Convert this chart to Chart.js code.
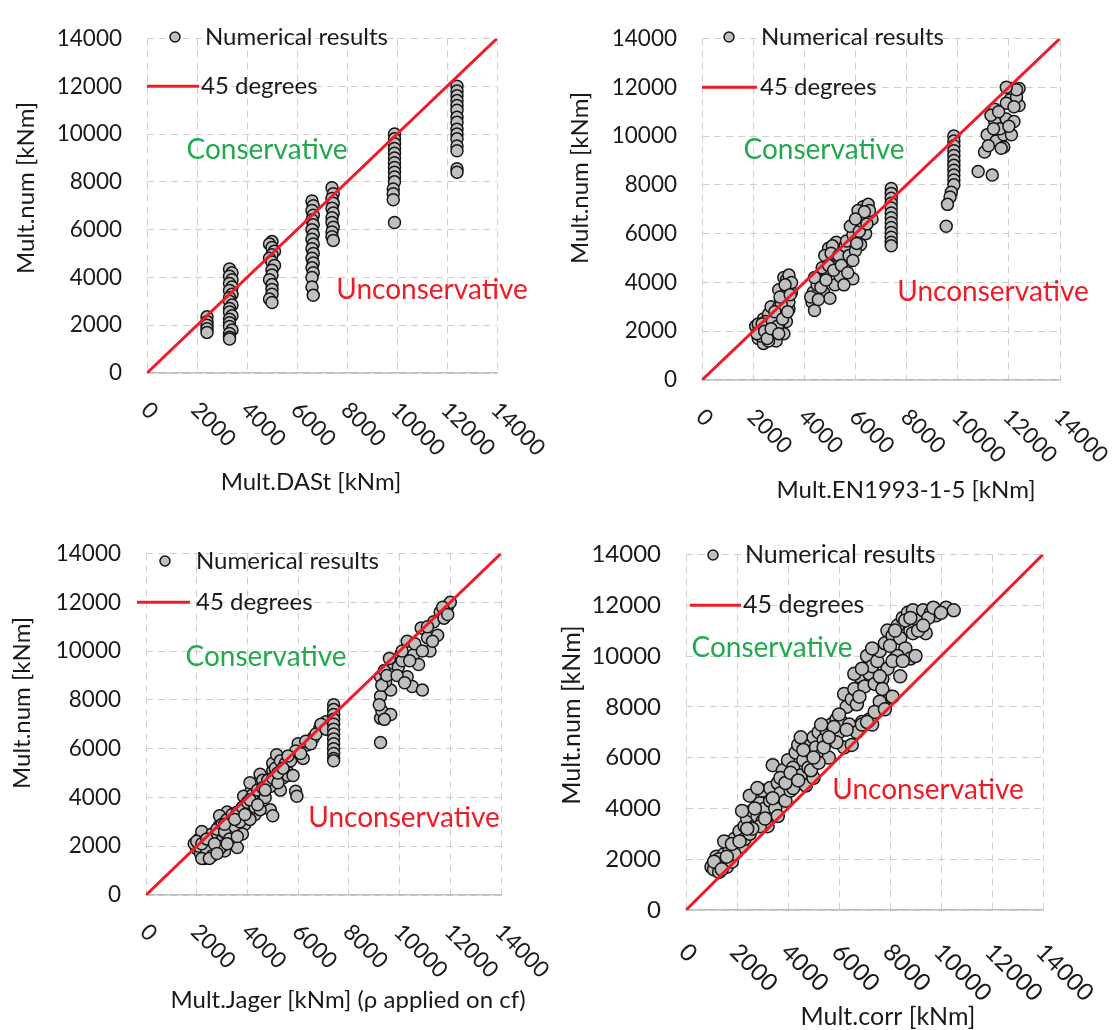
<!DOCTYPE html>
<html>
<head>
<meta charset="utf-8">
<title>Mult.num vs design models</title>
<script src="https://cdn.jsdelivr.net/npm/chart.js"></script>
<style>
  body { margin: 0; background: #fff; width: 1116px; height: 1030px; position: relative; overflow: hidden; }
  canvas { position: absolute; }
</style>
</head>
<body>
<canvas id="c1" width="556" height="510" style="left:0;top:0"></canvas>
<canvas id="c2" width="560" height="510" style="left:556px;top:0"></canvas>
<canvas id="c3" width="556" height="515" style="left:0;top:515px"></canvas>
<canvas id="c4" width="560" height="515" style="left:556px;top:515px"></canvas>

<script>
// axis ticks shared by all four plots
const axisTicks = [0, 2000, 4000, 6000, 8000, 10000, 12000, 14000];
const diagonal = [0, 14000];

// [Mult.model, Mult.num] pairs
const dastPoints = [
  [2400,2350],[2400,2150],[2400,2000],[2400,1850],[2400,1700],
  [3300,4350],[3400,4200],[3300,4050],[3400,3900],[3300,3750],[3400,3600],[3300,3450],[3400,3300],
  [3300,3150],[3300,3000],[3400,2850],[3300,2700],[3300,2550],[3400,2400],[3300,2250],[3300,2100],
  [3300,1950],[3400,1800],[3300,1650],[3300,1500],[3300,1420],
  [5000,5500],[4900,5400],[5000,5250],[5100,5100],[5000,4950],[4900,4800],[5000,4650],[5100,4500],
  [5000,4300],[5000,4100],[4900,3900],[5000,3700],[5000,3500],[5000,3300],[4900,3100],[5000,2950],
  [6600,7200],[6650,7000],[6600,6800],[6650,6600],[6600,6400],[6650,6200],[6600,6000],[6650,5800],
  [6600,5600],[6650,5400],[6600,5200],[6650,5000],[6600,4800],[6650,4600],[6600,4400],[6650,4200],
  [6600,4000],[6600,3600],[6650,3250],
  [7400,7750],[7450,7500],[7400,7300],[7450,7100],[7400,6900],[7450,6700],[7400,6500],[7400,6300],
  [7450,6100],[7400,5900],[7400,5700],[7450,5550],
  [9900,10000],[9900,9800],[9900,9600],[9900,9400],[9900,9200],[9900,9000],[9900,8800],[9900,8600],
  [9900,8400],[9900,8200],[9900,8000],[9850,7700],[9850,7500],[9850,7250],[9900,6300],
  [12400,12000],[12400,11800],[12400,11600],[12400,11400],[12400,11200],[12400,11000],[12400,10700],
  [12400,10500],[12400,10200],[12400,10000],[12400,9800],[12400,9500],[12400,9300],[12400,8550],[12400,8400]
];

const enPoints = [
  [2100,2200],[2200,1700],[2300,2100],[2400,1500],[2400,2500],[2500,1900],[2600,2200],[2600,2700],
  [2700,1700],[2700,3000],[2800,2300],[2900,1600],[2900,2600],[3000,3000],[3000,3700],[3100,2000],
  [3100,2700],[3200,3300],[3200,4200],[3300,2400],[3300,3600],[3300,4100],[3400,2900],[3400,3200],
  [3400,4300],[3500,3600],[3500,4000],[2500,2400],[2800,2000],[3000,2300],[3200,1900],[2300,1800],
  [2600,1600],[2200,2300],[3100,3100],
  [2150,1900],[2350,2300],[2450,2000],[2550,1700],[2750,2400],[2850,2800],[2950,2200],[3050,3400],
  [3150,2500],[3250,3900],[3350,2800],[3450,3500],[2700,2100],[3000,1900],
  [4300,3200],[4400,2850],[4350,3600],[4600,4100],[4950,5400],[5000,4900],[4900,4400],[4750,3600],
  [5000,3350],[5250,4650],[5200,3900],[5400,4250],[5500,5300],[5800,5400],[5650,4800],[5900,4150],
  [5250,5650],[4500,3900],[4800,5100],[4700,4600],[5100,5500],[4400,4200],
  [4250,3400],[4550,3300],[4650,3800],[4850,4100],[4950,4700],[5050,5200],[5150,4500],[5350,5100],
  [5450,4700],[5600,5500],[5750,5100],[5850,5700],[5700,4400],[5550,3900],
  [5650,5700],[5900,5950],[6050,6300],[6200,6700],[6300,7100],[6500,7200],[6450,6700],[6300,6200],
  [6200,5550],[6000,5300],[5900,4900],[6650,6600],[6550,6950],[6100,6950],[5800,6300],[6400,6000],
  [6050,5600],[6150,6100],[6250,6500],[6350,6900],[6450,6400],[6000,6600],
  [7400,7850],[7400,7650],[7400,7450],[7400,7250],[7400,7050],[7400,6850],[7400,6650],[7400,6450],
  [7400,6250],[7400,6050],[7400,5850],[7400,5650],[7400,5500],
  [9850,10000],[9850,9800],[9850,9600],[9850,9400],[9850,9200],[9850,9000],[9850,8800],[9850,8600],
  [9850,8400],[9850,8200],[9850,8000],[9750,7700],[9700,7500],[9600,7200],[9550,6300],
  [10800,8550],[11350,8400],[11050,9350],[11150,10050],[11450,11100],[11450,10600],[11500,9800],
  [11800,9550],[11800,10050],[11900,10700],[12050,11500],[12100,11950],[12400,11950],[12400,11250],
  [12100,10050],[11900,11350],[11650,10300],[11300,10850],[12200,10600],[12300,11600],
  [11200,9600],[11400,10300],[11600,11000],[11700,9500],[12000,10400],[12200,11200],[12300,11900],[11900,12000]
];

const jagerPoints = [
  [2000,1900],[2100,2300],[2300,1500],[2500,2050],[2700,2450],[2900,2850],[3100,1800],[3300,3250],
  [3500,2300],[3700,2700],[4000,3400],[4150,4300],[4250,3800],[4500,4050],[4750,4550],[5000,5100],
  [5000,5400],[4900,3500],[5000,3250],[5300,4300],[5550,5100],[5800,5650],[5900,4250],[5950,4050],
  [6050,5900],[6350,6150],[6600,6450],[6850,6850],[7100,7100],[5550,5650],[5150,5750],[4500,4950],
  [3850,4050],[3200,3400],[3700,3400],[2500,2450],[2900,3250],[4100,4600],[4900,4450],[4400,3900],
  [3600,1950],[2150,1700],[1900,2100],[2200,2600],[2700,1800],[3300,2700],[3900,2900],[4600,4700],
  [5400,4800],[6200,5600],[2800,2200],[3400,3000],[4300,3300],[6000,6200],
  [2100,2000],[2300,2200],[2400,1800],[2600,2500],[2600,1600],[2800,2700],[3000,2900],[3000,2000],
  [3100,2600],[3200,3100],[3400,3300],[3500,2800],[3600,3400],[3800,3600],[3800,2500],[4000,3800],
  [4200,4100],[4300,3600],[4400,4300],[4600,4400],[4700,4000],[4800,4700],[5000,4800],[5100,5200],
  [5200,4600],[5300,5500],[5500,5400],[5700,5500],[5900,5900],[6100,5800],[6300,6300],[6500,6200],
  [6700,6600],[6900,7000],[7100,6800],[5600,4900],[4500,3500],[2200,1500],[2500,1500],[3300,2300],
  [2000,2200],[2900,1900],[3700,3000],[4100,3100],[5800,4900],
  [2200,2100],[2400,2300],[2700,2100],[2800,1700],[3100,2900],[3200,2100],[3500,3100],[3600,2400],
  [3900,3300],[4100,3900],[4400,3700],[4700,4300],[5200,5000],[5400,5200],[5600,5700],
  [7400,7800],[7400,7600],[7400,7400],[7400,7200],[7400,7000],[7400,6800],[7400,6600],[7400,6400],
  [7400,6200],[7400,6000],[7400,5800],[7400,5600],[7400,5500],
  [9250,6250],[9250,7250],[9250,8150],[9300,7550],[9250,8950],[9400,9200],[9650,8400],[9650,7400],
  [9750,9500],[9950,9350],[10050,9850],[10300,10400],[10300,8950],[10500,8550],[10550,9850],
  [10850,10950],[10900,8400],[10750,9450],[11100,10550],[11200,10000],[11350,11200],[11600,11600],
  [11900,11850],[12000,12000],[11750,11350],[11500,10650],[9450,8750],[10100,9600],
  [9200,7800],[9300,8600],[9500,9000],[9600,9700],[9900,9000],[10100,10000],[10400,9600],[10600,10300],
  [10900,10000],[11100,11000],[11300,10400],[11700,11800],[11900,11500],[10200,8700],[9400,7200]
];

const corrPoints = [
  [1000,1700],[1100,1600],[1200,2100],[1300,1500],[1400,1900],[1500,2200],[1600,1700],[1700,2000],
  [1700,2400],[1800,1900],[1900,2800],[2000,2300],[2000,2600],[2100,3100],[2200,2500],[2300,3300],
  [2300,2800],[2400,3600],[2500,4500],[2500,3000],[2600,3900],[2700,3300],[2800,3700],[2900,4200],
  [3000,3500],[3000,4700],[3100,4000],[3200,3300],[3300,4800],[3300,4300],[3400,5700],[3500,4000],
  [3600,5000],[3700,4600],[3800,5500],[3900,4300],[4000,5900],[4000,5100],[4100,4700],[4200,5600],
  [4300,6200],[4300,5000],[4400,6500],[4500,5300],[4600,5900],[4700,4900],[4700,6600],[4800,5600],
  [4900,6200],[5000,5200],[5000,6800],[5100,6400],[5200,7000],[5300,6100],[5400,6700],[5500,7100],
  [5600,6000],[5700,7300],[5800,6800],[5900,7500],[6000,7000],[6100,7400],[6200,8500],[6200,6400],
  [6300,8000],[6400,7300],[6500,8300],[6600,8700],[6700,7000],[6700,8100],[6800,9200],[6900,7400],
  [7000,8800],[7100,10000],[7200,9300],[7300,7300],[7300,9600],[7400,8900],[7500,9800],[7600,10200],
  [7700,9100],[7800,10500],[7900,9500],[7900,11000],[8000,8400],[8100,10800],[8200,9900],[8300,11200],
  [8400,9200],[8400,10700],[8500,11500],[8600,10300],[8700,11700],[8800,9900],[8800,11000],[8900,11800],
  [9000,10000],[9100,11400],[9300,11800],[9400,10900],[9600,11700],[9800,11600],[10200,11900],[10500,11800],
  [8300,10000],[7700,8700],[6600,9300],[5900,6600],[5300,7300],[4500,6800],[3700,5200],[2800,4800],
  [2200,3900],[7200,7500],[7600,8200],[6900,9500],[8100,9800],[8600,11400],[4900,5500],[5200,5800],
  [3600,3700],[4200,4800],[2900,3300],[2600,3200],[1900,2200],[1500,2700],[1300,2000],[6500,6500],
  [5800,7200],[6900,7300],[7400,7800],[8900,10900],[9500,11500],
  [1100,1900],[1400,1600],[1600,2100],[1800,2600],[2100,2700],[2400,3200],[2700,4000],[3100,3600],
  [3400,4400],[3900,5000],[4100,5400],[4400,5100],[4600,6300],[5000,6000],[5400,6400],[5600,6800],
  [6000,7700],[6300,7100],[6800,8400],[7300,10300],[7600,9200],[8000,10400],[8200,11000],[8500,9800],
  [8800,11500],[9100,11000],[9300,11200],[9700,11900],[10000,11700],[7100,7400],[7800,7900],[8100,8400]
];

const FONT = 'Lato, "Open Sans", sans-serif';

const panels = [
  { canvas: 'c1', points: dastPoints, box: [0, 0], area: [147, 23, 497, 373], tick: 22.5, size: 24, big: 28, radius: 6,
    xTitle: 'Mult.DASt [kNm]', xTitlePos: [311, 482], yTitlePos: [26, 188], tickOff: [-2, 33],
    legend: { marker: [175, 37], text1: 205, line: [147, 199], text2: 201 },
    cons: [267, 150], uncons: [432, 290] },
  { canvas: 'c2', points: enPoints, box: [556, 0], area: [702, 18, 1060, 380], tick: 22.5, size: 24, big: 28, radius: 6,
    xTitle: 'Mult.EN1993-1-5 [kNm]', xTitlePos: [906, 490], yTitlePos: [580, 178], tickOff: [-2, 33],
    legend: { marker: [729, 37], text1: 761, line: [702, 757], text2: 760 },
    cons: [824, 150], uncons: [993, 292] },
  { canvas: 'c3', points: jagerPoints, box: [0, 515], area: [146, 543, 501, 895], tick: 22.5, size: 24, big: 28, radius: 6,
    xTitle: 'Mult.Jager [kNm] (\u03c1 applied on cf)', xTitlePos: [348, 1000], yTitlePos: [22, 703], tickOff: [-2, 33],
    legend: { marker: [165, 561], text1: 196, line: [137, 190], text2: 196 },
    cons: [266, 657], uncons: [404, 818] },
  { canvas: 'c4', points: corrPoints, box: [556, 515], area: [686, 537, 1043, 910], tick: 24, size: 25, big: 28, radius: 6.5,
    xTitle: 'Mult.corr [kNm]', xTitlePos: [888, 1017], yTitlePos: [572, 715], tickOff: [-3, 38],
    legend: { marker: [713, 555], text1: 745, line: [690, 741], text2: 743 },
    cons: [772, 648], uncons: [928, 790] }
];

// texts Chart.js can't place the way the original does (rotated x ticks, legend, region labels)
const panelText = {
  id: 'panelText',
  afterDraw(chart, args, o) {
    const ctx = chart.ctx, x = chart.scales.x, y = chart.scales.y;
    const bx = o.box[0], by = o.box[1];
    ctx.save();
    ctx.fillStyle = '#1a1a1a';

    // x tick labels, rotated 45 deg clockwise
    ctx.font = o.tick + 'px ' + FONT;
    axisTicks.forEach(v => {
      const px = x.getPixelForValue(v);
      ctx.save();
      ctx.translate(px + o.tickOff[0], y.bottom + o.tickOff[1]);
      ctx.rotate(Math.PI / 4);
      ctx.textAlign = 'left';
      ctx.textBaseline = 'middle';
      ctx.fillText(String(v), 0, 0);
      ctx.restore();
    });

    // axis titles
    ctx.font = o.size + 'px ' + FONT;
    ctx.textAlign = 'center';
    ctx.textBaseline = 'middle';
    ctx.fillText(o.xTitle, o.xTitlePos[0] - bx, o.xTitlePos[1] - by);
    ctx.save();
    ctx.translate(o.yTitlePos[0] - bx, o.yTitlePos[1] - by);
    ctx.rotate(-Math.PI / 2);
    ctx.fillText('Mult.num [kNm]', 0, 0);
    ctx.restore();

    // legend
    const lg = o.legend;
    const ly1 = lg.marker[1] - by;
    ctx.beginPath();
    ctx.arc(lg.marker[0] - bx, ly1, 5, 0, Math.PI * 2);
    ctx.fillStyle = '#bfbfbf';
    ctx.fill();
    ctx.lineWidth = 1.5;
    ctx.strokeStyle = '#151515';
    ctx.stroke();
    ctx.fillStyle = '#1a1a1a';
    ctx.textAlign = 'left';
    ctx.fillText('Numerical results', lg.text1 - bx, ly1);
    const ly2 = y.getPixelForValue(12000);
    ctx.beginPath();
    ctx.moveTo(lg.line[0] - bx, ly2);
    ctx.lineTo(lg.line[1] - bx, ly2);
    ctx.strokeStyle = '#ee1c25';
    ctx.lineWidth = 3;
    ctx.stroke();
    ctx.fillText('45 degrees', lg.text2 - bx, ly2);

    // region labels
    ctx.font = o.big + 'px ' + FONT;
    ctx.textAlign = 'center';
    ctx.fillStyle = '#22a94d';
    ctx.fillText('Conservative', o.cons[0] - bx, o.cons[1] - by);
    ctx.fillStyle = '#ee1c25';
    ctx.fillText('Unconservative', o.uncons[0] - bx, o.uncons[1] - by);
    ctx.restore();
  }
};

panels.forEach(p => {
  const [bx, by] = p.box;
  const canvas = document.getElementById(p.canvas);
  const [left, top, right, bottom] = p.area;
  new Chart(canvas, {
    type: 'scatter',
    data: {
      datasets: [
        {
          label: '45 degrees',
          type: 'line',
          data: diagonal.map(v => ({ x: v, y: v })),
          borderColor: '#ee1c25',
          borderWidth: 3,
          pointRadius: 0,
          order: 0
        },
        {
          label: 'Numerical results',
          data: p.points.map(d => ({ x: d[0], y: d[1] })),
          backgroundColor: '#bfbfbf',
          borderColor: '#151515',
          borderWidth: 1.5,
          pointRadius: p.radius,
          order: 1
        }
      ]
    },
    options: {
      responsive: false,
      animation: false,
      layout: { padding: { left: 0, top: top - by, right: bx + canvas.width - right, bottom: 0 } },
      plugins: {
        legend: { display: false },
        tooltip: { enabled: false },
        panelText: Object.assign({}, p)
      },
      scales: {
        x: {
          type: 'linear', min: 0, max: 14000,
          afterBuildTicks: s => { s.ticks = axisTicks.map(v => ({ value: v })); },
          afterFit: s => { s.height = by + canvas.height - bottom; },
          ticks: { display: false },
          grid: { color: '#cfcfcf', lineWidth: 1, drawTicks: false },
          border: { display: true, color: '#bdbdbd', width: 1.5, dash: [7, 5] }
        },
        y: {
          type: 'linear', min: 0, max: 14000,
          afterBuildTicks: s => { s.ticks = axisTicks.map(v => ({ value: v })); },
          afterFit: s => { s.width = left - bx; },
          ticks: { color: '#1a1a1a', padding: 25, font: { family: FONT, size: p.tick }, callback: v => String(v) },
          grid: { color: '#cfcfcf', lineWidth: 1, drawTicks: false },
          border: { display: false, dash: [7, 5] }
        }
      }
    },
    plugins: [panelText]
  });
});
</script>
</body>
</html>
